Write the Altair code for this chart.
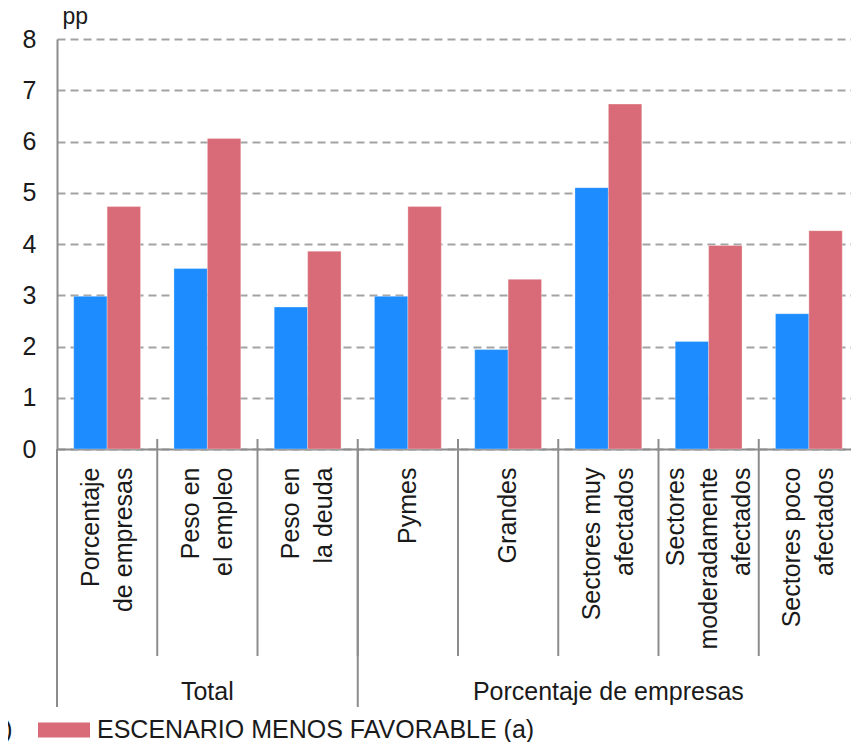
import altair as alt
import pandas as pd

# ---- data ----
categories = [
    "Porcentaje|de empresas",
    "Peso en|el empleo",
    "Peso en|la deuda",
    "Pymes",
    "Grandes",
    "Sectores muy|afectados",
    "Sectores|moderadamente|afectados",
    "Sectores poco|afectados",
]
series_names = ["ESCENARIO CENTRAL (a)", "ESCENARIO MENOS FAVORABLE (a)"]
central = [2.98, 3.52, 2.77, 2.98, 1.94, 5.10, 2.10, 2.64]
adverse = [4.73, 6.06, 3.86, 4.73, 3.31, 6.73, 3.97, 4.26]
group_labels = ["Total", "Porcentaje de empresas"]
group_anchor = ["Peso en|el empleo", "Sectores muy|afectados"]
group_starts = ["Porcentaje|de empresas", "Pymes"]
group_end = ["Sectores poco|afectados"]
inner_bounds = categories[1:]
y_ticks = [0, 1, 2, 3, 4, 5, 6, 7, 8]

colors = ["#1C8CFF", "#D96B78"]
gray = "#8C8C8C"
txt = "#1A1A1A"
FONT = "Liberation Sans"

bars_df = pd.DataFrame(
    [{"cat": c, "series": series_names[0], "value": v} for c, v in zip(categories, central)]
    + [{"cat": c, "series": series_names[1], "value": v} for c, v in zip(categories, adverse)]
)
groups_df = pd.DataFrame({"cat": group_anchor, "label": group_labels})
inner_df = pd.DataFrame({"cat": inner_bounds})
gstart_df = pd.DataFrame({"cat": group_starts})
gend_df = pd.DataFrame({"cat": group_end})

W, H = 802, 410
LH = 33

x_scale = alt.Scale(domain=categories, paddingInner=0, paddingOuter=0)
x_axis = alt.Axis(
    title=None,
    labelExpr="split(datum.label, '|')",
    labelAngle=-90,
    labelAlign="right",
    labelBaseline="middle",
    labelFontSize=25,
    labelLineHeight=LH,
    labelColor=txt,
    labelPadding=18,
    labelLimit=0,
    labelOffset={
        "condition": [
            {"test": "length(split(datum.value, '|')) == 3", "value": -LH},
            {"test": "length(split(datum.value, '|')) == 2", "value": -LH / 2},
        ],
        "value": 0,
    },
    ticks=False,
    tickSize=0,
    domainColor=gray,
    domainWidth=2,
    grid=False,
)

bars = alt.Chart(bars_df).mark_bar(stroke="white", strokeWidth=0.6, strokeOpacity=0.5).encode(
    x=alt.X("cat:N", scale=x_scale, axis=x_axis, sort=categories),
    xOffset=alt.XOffset("series:N", sort=series_names,
                        scale=alt.Scale(domain=series_names, paddingInner=0, paddingOuter=0.5)),
    y=alt.Y(
        "value:Q",
        scale=alt.Scale(domain=[0, 8], nice=False),
        axis=alt.Axis(
            values=y_ticks,
            title="pp",
            titleAngle=0,
            titleAlign="left",
            titleBaseline="alphabetic",
            titleX=5,
            titleY=-16,
            titleFontSize=23,
            titleFontWeight="normal",
            titleColor=txt,
            labelFontSize=25,
            labelColor=txt,
            labelPadding=21,
            ticks=False,
            tickSize=0,
            domainColor=gray,
            domainWidth=2,
            grid=True,
            gridColor="#A3A3A3",
            gridDash=[8, 5],
            gridWidth=1.8,
        ),
    ),
    color=alt.Color(
        "series:N",
        scale=alt.Scale(domain=series_names, range=colors),
        legend=alt.Legend(
            title=None,
            orient="none",
            direction="horizontal",
            legendX=-411,
            legendY=665,
            symbolType="M-1,-0.29H1V0.29H-1Z",
            symbolSize=2704,
            symbolStrokeWidth=0,
            symbolOpacity=1,
            labelFontSize=25,
            labelColor=txt,
            labelOffset=7,
            labelLimit=0,
            columnPadding=24,
            padding=0,
        ),
    ),
)

inner_rules = alt.Chart(inner_df).mark_rule(color=gray, strokeWidth=2, clip=False).encode(
    x=alt.X("cat:N", scale=x_scale, axis=x_axis, sort=categories, bandPosition=0),
    y=alt.value(400),
    y2=alt.value(617),
)
gstart_rules = alt.Chart(gstart_df).mark_rule(color=gray, strokeWidth=2, clip=False).encode(
    x=alt.X("cat:N", scale=x_scale, axis=x_axis, sort=categories, bandPosition=0),
    y=alt.value(410),
    y2=alt.value(668),
)
gend_rules = alt.Chart(gend_df).mark_rule(color=gray, strokeWidth=2, clip=False).encode(
    x=alt.X("cat:N", scale=x_scale, axis=x_axis, sort=categories, bandPosition=1),
    y=alt.value(410),
    y2=alt.value(668),
)
group_text = alt.Chart(groups_df).mark_text(
    fontSize=25, color=txt, align="center", baseline="middle", font=FONT
).encode(
    x=alt.X("cat:N", scale=x_scale, axis=x_axis, sort=categories),
    y=alt.value(653),
    text="label:N",
)

chart = (
    alt.layer(bars, inner_rules, gstart_rules, gend_rules, group_text)
    .properties(
        width=W,
        height=H,
        autosize=alt.AutoSizeParams(type="none"),
        padding={"left": 49, "top": 31, "right": -8, "bottom": 293},
    )
    .configure(font=FONT)
    .configure_view(stroke=None)
)

chart.save("out.html", embed_options={"renderer": "svg", "actions": False})
